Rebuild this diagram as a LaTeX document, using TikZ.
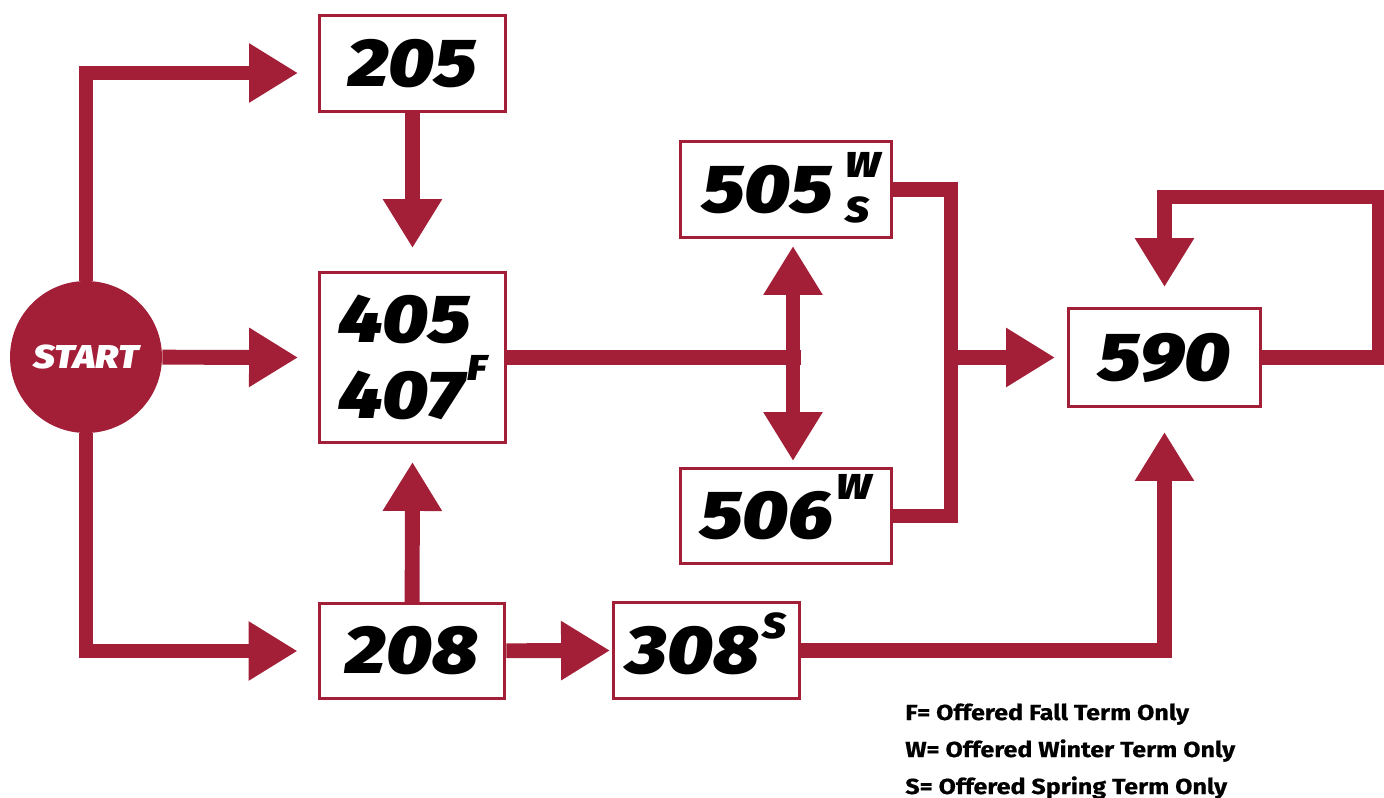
\documentclass[tikz,border=0pt]{standalone}
\usepackage{fontspec}
\usetikzlibrary{arrows.meta,calc}
\newfontfamily\numfont{Fira Sans}[UprightFont=* Black Italic, FakeStretch=1.15]
\newfontfamily\legendfont{Fira Sans}[UprightFont=* Bold, FakeStretch=1.15, FakeBold=0.6]
\definecolor{crimson}{RGB}{163,30,55}
\newcommand\termmark[2][21pt]{\kern2pt\smash{\raisebox{#1}{\fontsize{20.5}{20.5}\selectfont #2}}}
\newcommand\termpair[2]{\kern7pt\smash{\rlap{\raisebox{20pt}{\fontsize{20.5}{20.5}\selectfont #1}}\raisebox{-5.7pt}{\fontsize{20.5}{20.5}\selectfont #2}}}

\begin{document}
\begin{tikzpicture}[x=0.02cm, y=-0.02cm,
		>={Triangle[length=0.98cm, width=1.12cm]},
		course/.style={draw=crimson, line width=1.7pt, fill=white, inner sep=0pt,
			font=\numfont\fontsize{38.6}{43}\selectfont},
		flow/.style={crimson, line width=8.5pt, ->},
		bar/.style={crimson, line width=8.5pt},
		legend/.style={font=\legendfont\fontsize{12.4}{12.4}\selectfont, inner sep=0pt, anchor=base west}]
	\useasboundingbox (0,0) rectangle (1384,798);

	% Courses
	\node[circle, fill=crimson, minimum size=3.04cm, text=white,
		font=\numfont\fontsize{18.8}{18.8}\selectfont] (start) at (86,357) {START};
	\node[course, minimum width=3.72cm, minimum height=1.92cm] (c205) at (412.5,63.5) {205};
	\node[course, minimum width=3.72cm, minimum height=3.40cm, align=left] (c405) at (412.5,357.5) {405\\407\termmark[21.5pt]{F}};
	\node[course, minimum width=3.72cm, minimum height=1.90cm] (c208) at (412,651) {208};
	\node[course, minimum width=3.72cm, minimum height=1.92cm] (c308) at (706.5,650.5) {308\termmark[20pt]{S}};
	\node[course, minimum width=4.22cm, minimum height=1.92cm] (c505) at (786,189.5) {505\termpair{W}{S}};
	\node[course, minimum width=4.22cm, minimum height=1.90cm] (c506) at (786,516) {506\termmark[22.7pt]{W}};
	\node[course, minimum width=3.84cm, minimum height=1.96cm] (c590) at (1164.5,357.5) {590};

	% From start
	\draw[flow] (start) |- ($(c205.west)+(-20,9.5)$);
	\draw[flow] (start) -- ($(c405.west)+(-20,0)$);
	\draw[flow] (start) |- ($(c208.west)+(-20,0)$);

	% Into 405/407
	\draw[flow] (c205) -- ($(c405.north)+(0,-23)$);
	\draw[flow] (c208) -- ($(c405.south)+(0,18)$);
	\draw[flow] (c208) -- ($(c308.west)+(-2,0)$);

	% Split to 505 and 506
	\coordinate (split) at (793,357.5);
	\draw[bar] (c405) -- ($(split)+(8,0)$);
	\draw[flow, <->] ($(split |- c505.south)+(0,7)$) -- ($(split |- c506.north)+(0,-6)$);

	% Merge to 590
	\coordinate (merge) at (951,357.5);
	\draw[bar] (c505) -| (merge) |- (c506);
	\draw[flow] (merge) -- ($(c590.west)+(-12,0)$);
	\draw[flow] (c308) -| ($(c590.south)+(0,24)$);

	% Repeat 590
	\coordinate (loop) at (1379,197);
	\draw[flow] (c590) -| (loop) -| ($(c590.north)+(0,-20)$);

	% Legend
	\node[legend] (keyF) at (905,720) {F= Offered Fall Term Only};
	\node[legend] (keyW) at (905,757) {W= Offered Winter Term Only};
	\node[legend] (keyS) at (905,794) {S= Offered Spring Term Only};
\end{tikzpicture}
\end{document}
